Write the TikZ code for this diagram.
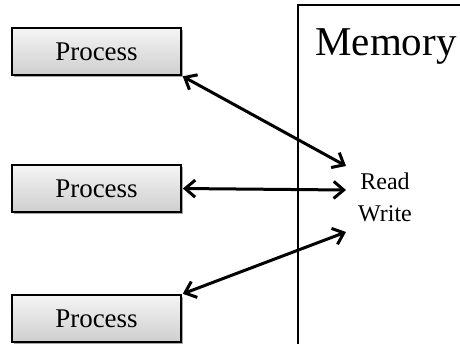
\documentclass[tikz,border=0pt]{standalone}
\usepackage{fontspec}
\setmainfont{Liberation Serif}
\usetikzlibrary{arrows.meta,shadows}
\begin{document}
\begin{tikzpicture}[x=1pt,y=-1pt,
  procbox/.style={draw=black, line width=1.7pt, minimum width=169pt, minimum height=47pt,
    inner sep=0pt, top color=gray!8, bottom color=gray!38,
    drop shadow={shadow xshift=2pt, shadow yshift=-2pt, opacity=0.35, fill=black},
    font=\fontsize{27}{30}\selectfont},
  tip/.tip={Straight Barb[length=10pt,width=17pt,line width=3pt]},
  link/.style={line width=3pt, tip-tip, shorten <=1pt},
  memwall/.style={draw=black, line width=2.6pt}
]
\useasboundingbox (0,0) rectangle (460,343);
\clip (0,0) rectangle (460,343);

% memory block, running off the right and bottom edges
\draw[memwall] (298,5) rectangle (480,360);
\node[anchor=base, font=\fontsize{41}{44}\selectfont] (mem) at (386,55) {Memory};

% read / write port label
\node[align=center, font=\fontsize{24}{32}\selectfont, inner sep=0pt] (rw) at (385,197) {Read\\Write};

% processes
\node[procbox] (p1) at (96.5,51.5) {Process};
\node[procbox] (p2) at (96.5,188.5) {Process};
\node[procbox] (p3) at (96.5,318.5) {Process};

% arrow end points at the memory port
\coordinate (r1) at (346,166);
\coordinate (r2) at (346,190);
\coordinate (r3) at (346,232);

\draw[link] (p1.south east) -- (r1);
\draw[link] (p2.east) -- (r2);
\draw[link] (p3.north east) -- (r3);
\end{tikzpicture}
\end{document}
